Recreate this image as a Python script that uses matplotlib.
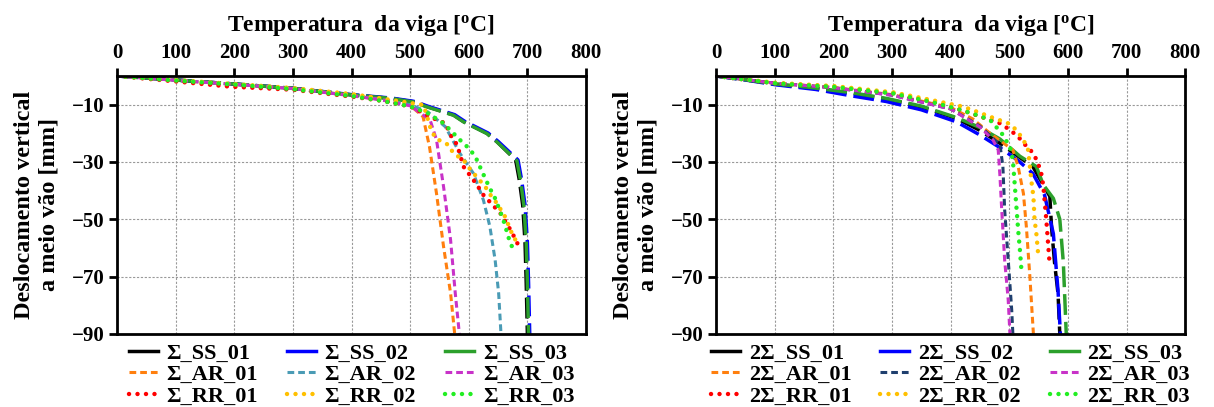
import matplotlib
matplotlib.use("Agg")
import matplotlib.pyplot as plt

# ---- data: temperature [C] / mid-span deflection [mm] ----
# left panel (Sigma)
s_ss01_t = [0, 50, 100, 200, 300, 400, 466, 506, 529, 574, 591, 631, 648, 680, 686, 692, 696, 698, 700]
s_ss01_d = [0, -0.7, -1.4, -2.8, -4.3, -6.6, -7.8, -9.0, -10.7, -13.6, -15.9, -20.0, -22.9, -29.3, -36, -45, -58, -72, -90]
s_ss02_t = [0, 50, 100, 200, 300, 400, 468, 508, 531, 576, 593, 633, 650, 684, 690, 696, 700, 702, 704]
s_ss02_d = [0, -0.7, -1.4, -2.8, -4.3, -6.5, -7.7, -8.9, -10.6, -13.5, -15.8, -19.9, -22.8, -29.3, -36, -45, -58, -72, -90]
s_ss03_t = [0, 50, 100, 200, 300, 400, 466, 506, 529, 574, 591, 631, 648, 682, 688, 694, 698, 700, 702]
s_ss03_d = [0, -0.7, -1.4, -2.8, -4.3, -6.6, -7.8, -9.1, -10.8, -13.7, -16.0, -20.1, -23.0, -29.5, -36, -45, -58, -72, -90]

s_ar01_t = [0, 100, 200, 300, 400, 450, 500, 522, 533, 545, 557, 569, 576]
s_ar01_d = [0, -1.5, -2.9, -4.4, -6.8, -8.2, -10.2, -14.2, -24.7, -41.0, -59.5, -75.8, -90]
s_ar02_t = [0, 100, 200, 300, 400, 450, 500, 530, 560, 585, 608, 625, 636, 645, 651, 655]
s_ar02_d = [0, -1.5, -2.9, -4.4, -6.8, -8.2, -10.0, -12.5, -17.7, -27.0, -34.0, -43.3, -52.5, -64.2, -75.8, -90]
s_ar03_t = [0, 100, 200, 300, 400, 450, 500, 534, 545, 557, 569, 577, 584]
s_ar03_d = [0, -1.5, -2.9, -4.4, -6.9, -8.3, -10.4, -15.3, -22.3, -38.6, -57.2, -75.8, -90]

s_rr01_t = [0, 100, 192, 300, 400, 450, 500, 540, 560, 569, 580, 586, 591, 603, 614, 625, 654, 673, 683]
s_rr01_d = [0, -1.9, -3.7, -4.8, -7.2, -8.6, -10.6, -14.8, -16.5, -20.6, -24.0, -28.0, -31.6, -34.9, -38.0, -41.5, -47.9, -54.3, -58.4]
s_rr02_t = [0, 100, 200, 300, 400, 450, 500, 523, 534, 543, 565, 574, 591, 603, 628, 639, 648, 662, 676, 682]
s_rr02_d = [0, -1.4, -2.8, -4.2, -6.3, -7.8, -9.4, -10.1, -17.7, -21.7, -24.0, -27.0, -29.3, -32.7, -38.6, -42.1, -44.4, -49.1, -56.1, -57.8]
s_rr03_t = [0, 100, 200, 300, 400, 450, 500, 530, 557, 571, 585, 600, 611, 628, 636, 645, 659, 665, 670, 679]
s_rr03_d = [0, -1.6, -3.0, -4.6, -7.0, -8.6, -10.6, -13.0, -16.5, -19.4, -22.3, -25.2, -28.0, -35.7, -39.2, -42.7, -50.2, -54.3, -57.8, -61.9]

# right panel (2 Sigma)
d_ss01_t = [0, 50, 103, 170, 230, 290, 350, 410, 450, 484, 515, 540, 569, 572, 577, 583, 586]
d_ss01_d = [0, -1.3, -2.9, -4.3, -6.0, -8.0, -10.8, -14.8, -19.0, -23.5, -28.0, -31.6, -42.0, -53.0, -65.0, -76.0, -90]
d_ss02_t = [0, 50, 103, 170, 230, 290, 350, 410, 450, 484, 515, 540, 560, 575, 583, 587]
d_ss02_d = [0, -1.4, -3.1, -4.7, -6.9, -8.9, -11.8, -16.0, -20.6, -25.0, -29.5, -34.0, -41.5, -55.0, -75.0, -90]
d_ss03_t = [0, 50, 103, 170, 230, 290, 350, 410, 450, 484, 518, 546, 558, 575, 586, 592, 597]
d_ss03_d = [0, -1.3, -2.8, -4.2, -5.8, -7.8, -10.5, -14.5, -18.0, -22.0, -28.0, -31.6, -38.0, -42.7, -50.0, -65.0, -90]

d_ar01_t = [0, 100, 200, 300, 400, 438, 467, 506, 515, 524, 529, 535, 541]
d_ar01_d = [0, -2.5, -4.0, -6.5, -11.0, -15.0, -20.0, -25.8, -31.6, -41.0, -52.6, -70.0, -90]
d_ar02_t = [0, 100, 200, 300, 400, 450, 484, 489, 492, 498, 504, 506]
d_ar02_d = [0, -2.5, -4.1, -6.7, -11.5, -17.5, -24.0, -31.6, -46.7, -64.0, -81.6, -90]
d_ar03_t = [0, 100, 200, 300, 400, 450, 472, 481, 484, 487, 492, 498, 501]
d_ar03_d = [0, -2.5, -4.1, -6.7, -11.5, -17.8, -22.3, -25.8, -35.0, -46.7, -64.2, -78.0, -90]

d_rr01_t = [0, 103, 200, 302, 370, 420, 484, 501, 515, 527, 541, 549, 555, 558, 563, 566, 569]
d_rr01_d = [0, -2.6, -3.7, -6.0, -9.0, -12.0, -16.5, -18.8, -21.2, -24.0, -27.0, -30.5, -34.5, -38.6, -50.2, -58.4, -66.5]
d_rr02_t = [0, 103, 200, 302, 370, 421, 444, 467, 498, 512, 524, 532, 538, 541, 543, 546, 549]
d_rr02_d = [0, -2.4, -3.5, -5.7, -8.5, -10.7, -12.4, -14.2, -16.5, -18.8, -22.3, -25.8, -37.4, -42.0, -50.2, -54.9, -61.9]
d_rr03_t = [0, 103, 200, 302, 370, 420, 444, 467, 487, 501, 506, 509, 512, 515, 518, 521]
d_rr03_d = [0, -2.6, -3.8, -6.1, -9.2, -12.0, -13.6, -15.3, -20.0, -24.7, -29.3, -37.4, -45.6, -53.7, -60.7, -68.8]

left_series = [
    ("Σ_SS_01", s_ss01_t, s_ss01_d), ("Σ_SS_02", s_ss02_t, s_ss02_d), ("Σ_SS_03", s_ss03_t, s_ss03_d),
    ("Σ_AR_01", s_ar01_t, s_ar01_d), ("Σ_AR_02", s_ar02_t, s_ar02_d), ("Σ_AR_03", s_ar03_t, s_ar03_d),
    ("Σ_RR_01", s_rr01_t, s_rr01_d), ("Σ_RR_02", s_rr02_t, s_rr02_d), ("Σ_RR_03", s_rr03_t, s_rr03_d),
]
right_series = [
    ("2Σ_SS_01", d_ss01_t, d_ss01_d), ("2Σ_SS_02", d_ss02_t, d_ss02_d), ("2Σ_SS_03", d_ss03_t, d_ss03_d),
    ("2Σ_AR_01", d_ar01_t, d_ar01_d), ("2Σ_AR_02", d_ar02_t, d_ar02_d), ("2Σ_AR_03", d_ar03_t, d_ar03_d),
    ("2Σ_RR_01", d_rr01_t, d_rr01_d), ("2Σ_RR_02", d_rr02_t, d_rr02_d), ("2Σ_RR_03", d_rr03_t, d_rr03_d),
]

left_colors = ["#000000", "#0000ff", "#2ca02c", "#ff7f0e", "#4a9bb5", "#c832c8", "#ff0000", "#ffc000", "#22ee22"]
right_colors = ["#000000", "#0000ff", "#2ca02c", "#ff7f0e", "#1f3f6e", "#c832c8", "#ff0000", "#ffc000", "#22ee22"]

x_ticks = [0, 100, 200, 300, 400, 500, 600, 700, 800]
y_ticks = [-90, -70, -50, -30, -10]

plt.rcParams["font.family"] = ["Liberation Serif", "DejaVu Serif"]
plt.rcParams["font.weight"] = "bold"

fig = plt.figure(figsize=(12.14, 4.07), dpi=100)
ax_l = fig.add_axes([0.0964, 0.1794, 0.3863, 0.6339])
ax_r = fig.add_axes([0.5898, 0.1794, 0.3866, 0.6339])


def style_for(i):
    if i < 3:
        return dict(lw=2.5, linestyle=(0, (6, 2)))
    if i < 6:
        return dict(lw=2.2, linestyle=(0, (2.2, 1.3)))
    return dict(lw=3.2, linestyle=(0, (0.01, 1.9)), dash_capstyle="round")


# legend fills column by column, so reorder to get row-wise layout
leg_order = [0, 3, 6, 1, 4, 7, 2, 5, 8]

for ax, series, colors in [(ax_l, left_series, left_colors), (ax_r, right_series, right_colors)]:
    lines = []
    for i, (name, t, d) in enumerate(series):
        ln, = ax.plot(t, d, color=colors[i], label=name, **style_for(i))
        lines.append(ln)
    ax.set_xlim(0, 800)
    ax.set_ylim(-90, 0)
    ax.set_xticks(x_ticks)
    ax.set_yticks(y_ticks)
    ax.xaxis.tick_top()
    ax.xaxis.set_label_position("top")
    ax.tick_params(axis="both", labelsize=15, width=2, length=6, direction="out", pad=3)
    for lbl in ax.get_xticklabels() + ax.get_yticklabels():
        lbl.set_fontweight("bold")
    ax.set_xlabel("Temperatura  da viga [$\\mathregular{^o}$C]", fontsize=17, fontweight="bold")
    ax.xaxis.set_label_coords(0.521, 1.175)
    ax.set_ylabel("Deslocamento vertical\na meio vão [mm]", fontsize=17.5, fontweight="bold", labelpad=9)
    ax.grid(True, color="#999999", linestyle=(0, (2, 1.5)), linewidth=0.8)
    for sp in ax.spines.values():
        sp.set_linewidth(2)
    leg = ax.legend([lines[k] for k in leg_order], [series[k][0] for k in leg_order],
                    loc="upper center", bbox_to_anchor=(0.5, 0.0), ncol=3, frameon=False,
                    fontsize=16, handlelength=1.3, columnspacing=1.3, labelspacing=0.05,
                    handletextpad=0.4, borderaxespad=0)
    for txt in leg.get_texts():
        txt.set_fontweight("bold")
    for pos, k in enumerate(leg_order):
        if k < 3:
            leg.legend_handles[pos].set_linestyle("-")

fig.savefig("out.png", dpi=100)
